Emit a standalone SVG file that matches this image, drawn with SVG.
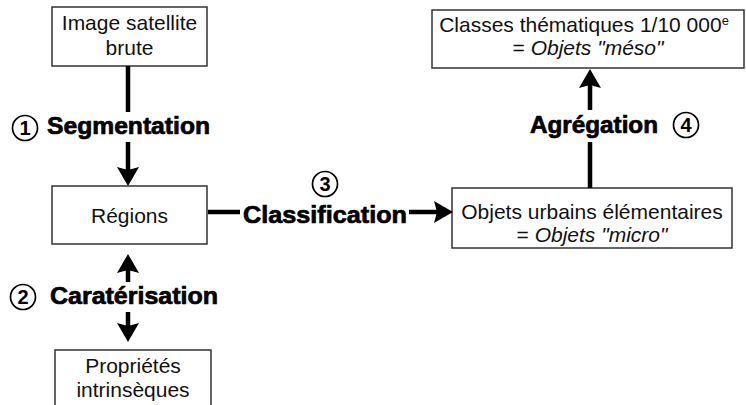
<svg xmlns="http://www.w3.org/2000/svg" width="746" height="405" viewBox="0 0 746 405">
<style>
.box{fill:#fff;stroke:#333;stroke-width:1.5}
.t{font-family:"Liberation Sans",Arial,sans-serif;font-size:21px;fill:#111;text-anchor:middle}
.b{font-family:"Liberation Sans",Arial,sans-serif;font-size:24px;font-weight:bold;fill:#000;stroke:#000;stroke-width:0.7}
.c{fill:#fff;stroke:#000;stroke-width:1.7}
.n{font-family:"Liberation Sans",Arial,sans-serif;font-size:20px;font-weight:bold;fill:#000;text-anchor:middle}
.ln{stroke:#000;stroke-width:4.5;fill:none}
</style>
<defs>
<marker id="ah" markerUnits="userSpaceOnUse" markerWidth="20" markerHeight="22" viewBox="0 0 20 22" refX="8" refY="11" orient="auto">
<path d="M0,0 L19,11 L0,22 L3,11 z" fill="#000"/>
</marker>
</defs>
<rect width="746" height="405" fill="#fff"/>
<g id="n-image">
<rect class="box" x="52" y="7" width="155" height="59"/>
<text class="t" x="129.5" y="30">Image satellite</text>
<text class="t" x="129.5" y="55">brute</text>
</g>
<g id="n-regions">
<rect class="box" x="52" y="186" width="155" height="58"/>
<text class="t" x="129.5" y="223">Régions</text>
</g>
<g id="n-proprietes">
<rect class="box" x="55" y="350" width="156" height="62"/>
<text class="t" x="133" y="373">Propriétés</text>
<text class="t" x="133" y="397">intrinsèques</text>
</g>
<g id="n-objets">
<rect class="box" x="452" y="188" width="280" height="60"/>
<text class="t" x="592" y="219">Objets urbains élémentaires</text>
<text class="t" x="592" y="242">= <tspan font-style="italic">Objets "micro"</tspan></text>
</g>
<g id="n-classes">
<rect class="box" x="432" y="10" width="312" height="58"/>
<text class="t" x="584" y="32">Classes thématiques 1/10 000<tspan font-size="13" dy="-7">e</tspan></text>
<text class="t" x="588" y="55">= <tspan font-style="italic">Objets "méso"</tspan></text>
</g>
<g id="connectors">
<line class="ln" x1="128" y1="66" x2="128" y2="112"/>
<line class="ln" x1="128" y1="142" x2="128" y2="175" marker-end="url(#ah)"/>
<line class="ln" x1="128" y1="282" x2="128" y2="265" marker-end="url(#ah)"/>
<line class="ln" x1="128" y1="312" x2="128" y2="331" marker-end="url(#ah)"/>
<line class="ln" x1="208" y1="212" x2="240" y2="212"/>
<line class="ln" x1="409" y1="212" x2="442" y2="212" marker-end="url(#ah)"/>
<line class="ln" x1="590" y1="188" x2="590" y2="142"/>
<line class="ln" x1="590" y1="110" x2="590" y2="80" marker-end="url(#ah)"/>
</g>
<g id="labels">
<circle class="c" cx="25" cy="128" r="12.5"/>
<text class="n" x="25" y="135">1</text>
<text class="b" x="47" y="134" textLength="163" lengthAdjust="spacingAndGlyphs">Segmentation</text>
<circle class="c" cx="23" cy="297" r="12.5"/>
<text class="n" x="23" y="304">2</text>
<text class="b" x="50" y="304" textLength="168" lengthAdjust="spacingAndGlyphs">Caratérisation</text>
<circle class="c" cx="325" cy="184" r="12.5"/>
<text class="n" x="325" y="191">3</text>
<text class="b" x="243" y="223" textLength="164" lengthAdjust="spacingAndGlyphs">Classification</text>
<text class="b" x="530" y="133" textLength="128" lengthAdjust="spacingAndGlyphs">Agrégation</text>
<circle class="c" cx="686" cy="125" r="12.5"/>
<text class="n" x="686" y="132">4</text>
</g>
</svg>
